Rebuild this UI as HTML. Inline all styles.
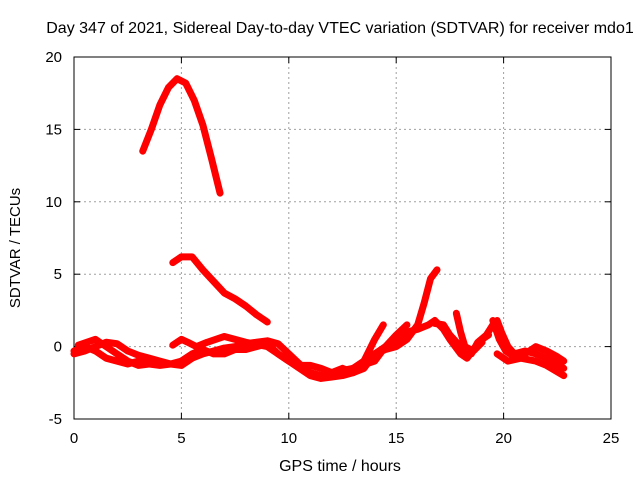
<!DOCTYPE html>
<html><head><meta charset="utf-8"><style>
body{margin:0;background:#fff;width:640px;height:480px;overflow:hidden}
svg{display:block;font-family:"Liberation Sans",sans-serif}
</style></head><body>
<svg id="chart" width="640" height="480"></svg>
<script>
const xTicks=[0,5,10,15,20,25];
const yTicks=[-5,0,5,10,15,20];
const seriesA=[[3.2,13.5],[3.6,15],[4,16.7],[4.4,17.9],[4.8,18.5],[5.2,18.2],[5.6,17],[6,15.3],[6.4,13],[6.8,10.6]];
const seriesB=[[4.6,5.8],[5,6.2],[5.5,6.2],[6,5.3],[6.5,4.5],[7,3.7],[7.5,3.3],[8,2.8],[8.5,2.2],[9,1.7]];
const seriesC=[[0,-0.3],[0.5,0],[1,-0.3],[1.5,-0.8],[2,-1],[2.5,-1.2],[3,-1],[3.5,-1.2],[4,-1.3],[4.5,-1.2],[5,-1.3],[5.5,-0.8],[6,-0.5],[6.5,-0.3],[7,-0.1],[7.5,0],[8,0.2],[8.5,0.3],[9,0.4],[9.5,0.2],[10,-0.5],[10.5,-1.2],[11,-1.8],[11.5,-2],[12,-1.8],[12.5,-1.5],[13,-1.8],[13.5,-1.5],[14,-0.5],[14.5,0],[15,0.5],[15.5,1],[16,1.2],[16.5,1.5],[16.8,1.8],[17.2,1.2],[17.5,0.5],[18,-0.5],[18.3,-0.8],[18.7,0],[19,0.5],[19.3,0.8]];
const seriesD=[[0,-0.5],[0.5,-0.3],[1,0],[1.5,0.3],[2,0.2],[2.5,-0.3],[3,-0.6],[3.5,-0.8],[4,-1],[4.5,-1.2],[5,-1],[5.5,-0.5],[6,-0.2],[6.5,-0.5],[7,-0.5],[7.5,-0.2],[8,-0.2],[8.5,0],[9,0.2],[9.5,-0.5],[10,-1],[10.5,-1.5],[11,-2],[11.5,-2.2],[12,-2.1],[12.5,-2],[13,-1.8],[13.5,-1],[14,0.5],[14.4,1.5]];
const seriesE=[[4.6,0.1],[5,0.5],[5.3,0.3],[5.7,0],[6.2,0.3],[7,0.7],[8,0.3],[9,0],[9.5,-0.5],[10,-1],[10.5,-1.3],[11,-1.3],[11.5,-1.5],[12,-1.8],[13,-1.5],[14,-1],[14.5,0],[15,0.8],[15.5,1.5]];
const seriesF=[[0.2,0.1],[1,0.5],[1.5,0],[2,-0.5],[2.5,-1],[3,-1.3],[3.5,-1.2],[4,-1.1]];
const seriesG=[[13,-1.5],[13.5,-1],[14,-0.5],[14.5,-0.2],[15,0],[15.5,0.5],[16,1.5],[16.3,3],[16.6,4.7],[16.9,5.3]];
const seriesH=[[16.8,1.6],[17.2,1.5],[17.5,0.8],[18,0],[18.3,-0.5],[18.5,-0.5],[18.8,0.3],[19.2,0.8],[19.5,1.5],[19.7,1.8],[19.9,1],[20.2,0],[20.5,-0.5],[21,-0.3],[21.5,-0.5],[22,-0.8],[22.5,-1.2],[22.8,-1.5]];
const seriesI=[[19.5,1.8],[19.8,0.5],[20.1,-0.3],[20.6,-0.8],[21,-0.5],[21.5,0],[22,-0.3],[22.5,-0.7],[22.8,-1]];
const seriesJ=[[17.8,2.3],[18,1],[18.2,0],[18.6,-0.3],[19,0.3]];
const seriesK=[[19.7,-0.5],[20.2,-1],[20.8,-0.8],[21.5,-1],[22,-1.3],[22.8,-2]];
const allSeries=[seriesA,seriesB,seriesC,seriesD,seriesE,seriesF,seriesG,seriesH,seriesI,seriesJ,seriesK];

const L=74,R=611,T=57,B=419;
const xs=v=>L+(v-0)/(25-0)*(R-L);
const ys=v=>B-(v+5)/(25)*(B-T);
const svg=document.getElementById('chart');
const NS='http://www.w3.org/2000/svg';
function mk(tag,attrs,parent){const e=document.createElementNS(NS,tag);for(const k in attrs)e.setAttribute(k,attrs[k]);(parent||svg).appendChild(e);return e;}

xTicks.forEach(t=>{
  if(t>0&&t<25){const g=mk('line',{x1:xs(t),x2:xs(t),y1:T,y2:B,stroke:'#a0a0a0','stroke-dasharray':'2,3'});
  
  }
  mk('line',{x1:xs(t),x2:xs(t),y1:B,y2:B-6,stroke:'#000'});
  mk('line',{x1:xs(t),x2:xs(t),y1:T,y2:T+6,stroke:'#000'});
  const tx=mk('text',{x:xs(t),y:B+24,'text-anchor':'middle','font-size':15});
  tx.textContent=t;
  
  
});
yTicks.forEach(t=>{
  if(t>-5&&t<20){const g=mk('line',{x1:L,x2:R,y1:ys(t),y2:ys(t),stroke:'#a0a0a0','stroke-dasharray':'2,3'});
  
  }
  mk('line',{x1:L,x2:L+6,y1:ys(t),y2:ys(t),stroke:'#000'});
  mk('line',{x1:R,x2:R-6,y1:ys(t),y2:ys(t),stroke:'#000'});
  const tx=mk('text',{x:L-12,y:ys(t)+5,'text-anchor':'end','font-size':15});
  tx.textContent=t;
  
  
});
const frame=mk('rect',{x:L,y:T,width:R-L,height:B-T,fill:'none',stroke:'#000'});



allSeries.forEach((s,i)=>{
  const p=mk('polyline',{points:s.map(d=>xs(d[0])+','+ys(d[1])).join(' '),fill:'none',stroke:'#ff0000','stroke-width':7,'stroke-linejoin':'round','stroke-linecap':'round'});
  
  
});

const title=mk('text',{x:340,y:33,'text-anchor':'middle','font-size':16});
title.textContent='Day 347 of 2021, Sidereal Day-to-day VTEC variation (SDTVAR) for receiver mdo1';


const xl=mk('text',{x:340,y:471,'text-anchor':'middle','font-size':16});
xl.textContent='GPS time / hours';


const yl=mk('text',{x:0,y:0,'text-anchor':'middle','font-size':15,transform:'translate(20,248) rotate(-90)'});
yl.textContent='SDTVAR / TECUs';


</script>
</body></html>
